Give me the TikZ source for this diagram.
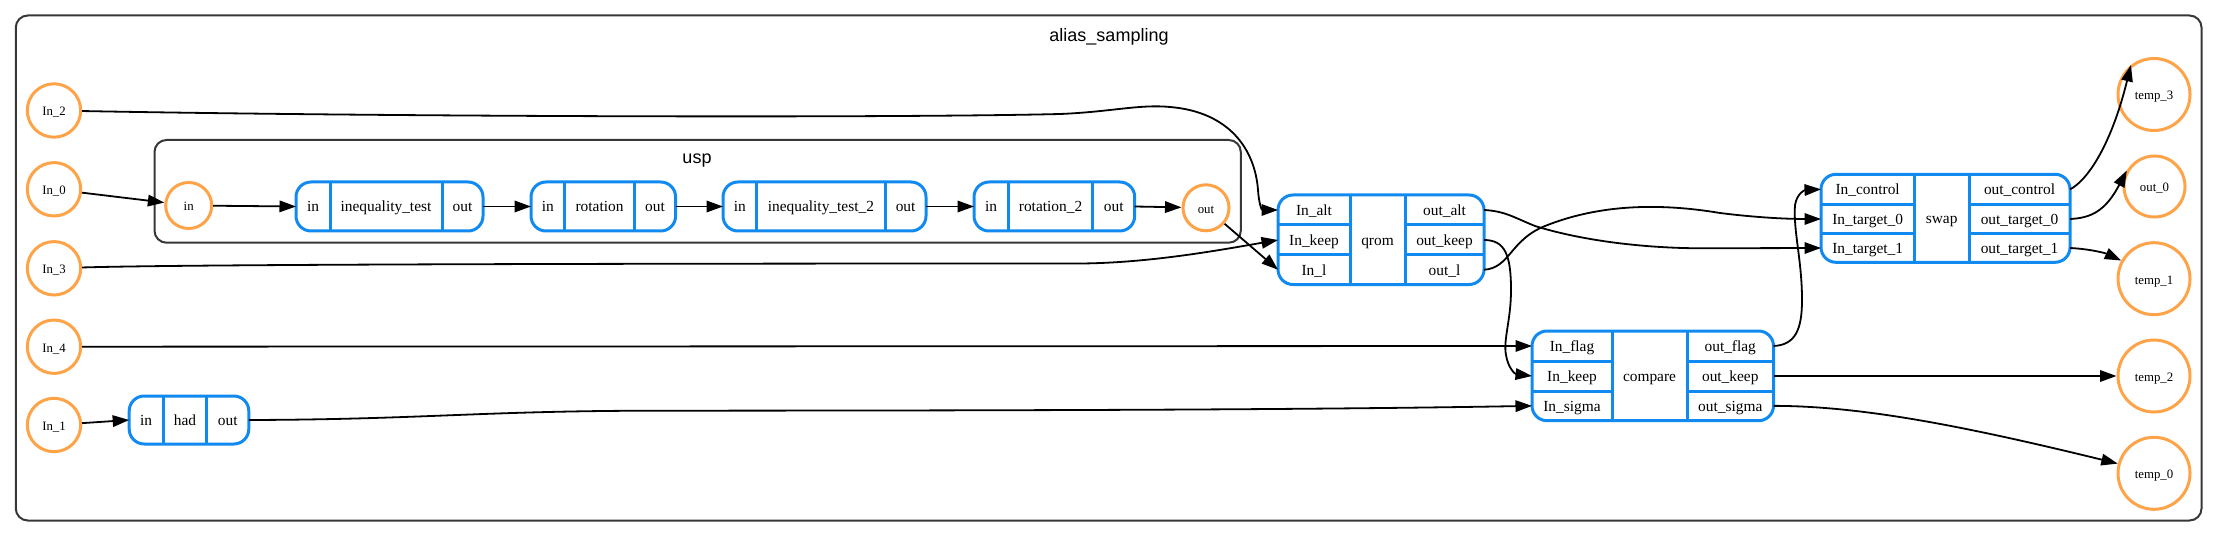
\documentclass[tikz,border=0pt]{standalone}
\usepackage{fontspec}
\setmainfont{Liberation Serif}
\newfontfamily\titlefont{Liberation Sans}
\usetikzlibrary{arrows.meta}
\definecolor{portblue}{RGB}{16,138,240}
\definecolor{termorange}{RGB}{255,163,72}
\definecolor{framegray}{RGB}{55,55,55}
\newcommand\pcell[6]{\node[cellsty, minimum width={(#4)-(#2)}, minimum height={(#5)-(#3)}] (#1) at ({((#2)+(#4))/2},{((#3)+(#5))/2}) {#6};}
\newcommand\rowbox[8]{%
  \pcell{#1-in}{#2}{#6}{#3}{#7}{in}
  \pcell{#1-name}{#3}{#6}{#4}{#7}{#8}
  \pcell{#1-out}{#4}{#6}{#5}{#7}{out}
  \draw[boxsty] (#2,#6) rectangle (#5,#7);
  \draw[divsty] (#3,#6) -- (#3,#7) (#4,#6) -- (#4,#7);
}
\begin{document}
\begin{tikzpicture}[x=1pt,y=-1pt,
  cellsty/.style={inner sep=0pt, outer sep=0pt, font=\fontsize{15.4}{18}\selectfont, text height=13.5pt, text depth=2.5pt},
  boxsty/.style={draw=portblue, line width=3pt, rounded corners=15pt},
  divsty/.style={draw=portblue, line width=3pt},
  term/.style={circle, draw=termorange, line width=3pt, inner sep=0pt, font=\fontsize{12.8}{15}\selectfont, text height=13pt, text depth=2pt},
  conn/.style={draw=black, line width=1.8pt, -{Triangle[length=16.5pt,width=11.5pt]}},
  clusterframe/.style={draw=framegray, line width=2pt, rounded corners=12pt}]
\useasboundingbox (0,0) rectangle (2218,537);
% frames
\draw[clusterframe] (15.8,15.5) rectangle (2201.5,520.5);
\node[anchor=base, font=\titlefont\fontsize{18}{21}\selectfont] (title) at (1109,41.5) {alias\_sampling};
\draw[clusterframe] (154.5,140) rectangle (1240.8,242.7);
\node[anchor=base, font=\titlefont\fontsize{18}{21}\selectfont] (usplabel) at (697,163.5) {usp};
% terminals
\node[term, minimum size=53.4pt] (in2) at (54,110.5) {In\_2};
\node[term, minimum size=53.4pt] (in0) at (54,189.3) {In\_0};
\node[term, minimum size=53.4pt] (in3) at (54,268.3) {In\_3};
\node[term, minimum size=53.4pt] (in4) at (54,346.7) {In\_4};
\node[term, minimum size=53.4pt] (in1) at (54,425) {In\_1};
\node[term, minimum size=46pt] (uspin) at (188.7,205.5) {in};
\node[term, minimum size=46pt] (uspout) at (1206,207.8) {out};
\node[term, minimum size=72pt] (tmp3) at (2154,94.5) {temp\_3};
\node[term, minimum size=61pt] (out0) at (2154.5,186.5) {out\_0};
\node[term, minimum size=72pt] (tmp1) at (2154,278.7) {temp\_1};
\node[term, minimum size=72pt] (tmp2) at (2154,376) {temp\_2};
\node[term, minimum size=72pt] (tmp0) at (2154,473.3) {temp\_0};
% single-row boxes
\rowbox{ineq}{296}{330}{442}{483}{182}{231}{inequality\_test}
\rowbox{rot}{531}{564.6}{634.4}{675.6}{182}{231}{rotation}
\rowbox{ineqb}{723}{756.6}{885.2}{926}{182}{231}{inequality\_test\_2}
\rowbox{rotb}{974}{1008.2}{1092.9}{1134.7}{182}{231}{rotation\_2}
\rowbox{had}{129.2}{163.2}{206.7}{248.8}{396}{444}{had}
% qrom
\pcell{qrom-inalt}{1278}{195}{1350}{225}{In\_alt}
\pcell{qrom-inkeep}{1278}{225}{1350}{255}{In\_keep}
\pcell{qrom-inl}{1278}{255}{1350}{284.5}{In\_l}
\pcell{qrom-name}{1350}{195}{1405}{284.5}{qrom}
\pcell{qrom-outalt}{1405}{195}{1484}{225}{out\_alt}
\pcell{qrom-outkeep}{1405}{225}{1484}{255}{out\_keep}
\pcell{qrom-outl}{1405}{255}{1484}{284.5}{out\_l}
\draw[boxsty] (1278,195) rectangle (1484,284.5);
\draw[divsty] (1350,195)--(1350,284.5) (1405,195)--(1405,284.5) (1278,225)--(1350,225) (1278,255)--(1350,255) (1405,225)--(1484,225) (1405,255)--(1484,255);
% compare
\pcell{cmp-inflag}{1532}{331}{1612}{361}{In\_flag}
\pcell{cmp-inkeep}{1532}{361}{1612}{391}{In\_keep}
\pcell{cmp-insigma}{1532}{391}{1612}{420.7}{In\_sigma}
\pcell{cmp-name}{1612}{331}{1687}{420.7}{compare}
\pcell{cmp-outflag}{1687}{331}{1773.5}{361}{out\_flag}
\pcell{cmp-outkeep}{1687}{361}{1773.5}{391}{out\_keep}
\pcell{cmp-outsigma}{1687}{391}{1773.5}{420.7}{out\_sigma}
\draw[boxsty] (1532,331) rectangle (1773.5,420.7);
\draw[divsty] (1612,331)--(1612,420.7) (1687,331)--(1687,420.7) (1532,361)--(1612,361) (1532,391)--(1612,391) (1687,361)--(1773.5,361) (1687,391)--(1773.5,391);
% swap
\pcell{swap-inctl}{1821}{174.3}{1914.3}{204.3}{In\_control}
\pcell{swap-int0}{1821}{204.3}{1914.3}{233.7}{In\_target\_0}
\pcell{swap-int1}{1821}{233.7}{1914.3}{262.3}{In\_target\_1}
\pcell{swap-name}{1914.3}{174.3}{1969}{262.3}{swap}
\pcell{swap-outctl}{1969}{174.3}{2070}{204.3}{out\_control}
\pcell{swap-outt0}{1969}{204.3}{2070}{233.7}{out\_target\_0}
\pcell{swap-outt1}{1969}{233.7}{2070}{262.3}{out\_target\_1}
\draw[boxsty] (1821,174.3) rectangle (2070,262.3);
\draw[divsty] (1914.3,174.3)--(1914.3,262.3) (1969,174.3)--(1969,262.3) (1821,204.3)--(1914.3,204.3) (1821,233.7)--(1914.3,233.7) (1969,204.3)--(2070,204.3) (1969,233.7)--(2070,233.7);
% connectors
\draw[conn] (in0) -- (uspin);
\draw[conn] (uspin) -- (ineq-in.west);
\draw[conn] (ineq-out.east) -- (rot-in.west);
\draw[conn] (rot-out.east) -- (ineqb-in.west);
\draw[conn] (ineqb-out.east) -- (rotb-in.west);
\draw[conn] (rotb-out.east) -- (uspout);
\draw[conn] (uspout) -- (qrom-inl.west);
\draw[conn] (in2) .. controls (400,117) and (900,118) .. (1060,114) .. controls (1110,112) and (1140,104) .. (1170,107) .. controls (1230,112) and (1255,150) .. (1258,190) .. controls (1259,205) and (1262,210) .. (qrom-inalt.west);
\draw[conn] (in3) .. controls (200,264) and (700,263.5) .. (1080,263.5) .. controls (1150,263) and (1220,250) .. (qrom-inkeep.west);
\draw[conn] (in4) -- (cmp-inflag.west);
\draw[conn] (in1) -- (had-in.west);
\draw[conn] (had-out.east) .. controls (420,419.5) and (480,411) .. (650,410.7) .. controls (1000,410.5) and (1300,410) .. (cmp-insigma.west);
\draw[conn] (qrom-outkeep.east) .. controls (1505,240) and (1511,255) .. (1511,290) .. controls (1511,320) and (1503,340) .. (1506,355) .. controls (1508,368) and (1515,374) .. (cmp-inkeep.west);
\draw[conn] (qrom-outl.east) .. controls (1510,268) and (1510,240) .. (1545,226) .. controls (1600,204) and (1660,203) .. (1720,213) .. controls (1760,218) and (1790,219) .. (swap-int0.west);
\draw[conn] (qrom-outalt.east) .. controls (1505,211) and (1515,218) .. (1535,226) .. controls (1580,240) and (1640,248) .. (1700,248.3) -- (swap-int1.west);
\draw[conn] (cmp-outflag.east) .. controls (1795,345) and (1802,330) .. (1802,300) .. controls (1802,260) and (1793,230) .. (1795,205) .. controls (1797,193) and (1805,190) .. (swap-inctl.west);
\draw[conn] (cmp-outkeep.east) -- (tmp2);
\draw[conn] (cmp-outsigma.east) .. controls (1860,406) and (1960,425) .. (tmp0.165);
\draw[conn] (swap-outctl.east) .. controls (2085,182) and (2110,150) .. (tmp3.128);
\draw[conn] (swap-outt0.east) .. controls (2090,218) and (2105,212) .. (out0.150);
\draw[conn] (swap-outt1.east) .. controls (2090,249) and (2105,253) .. (tmp1.151);
\end{tikzpicture}
\end{document}
